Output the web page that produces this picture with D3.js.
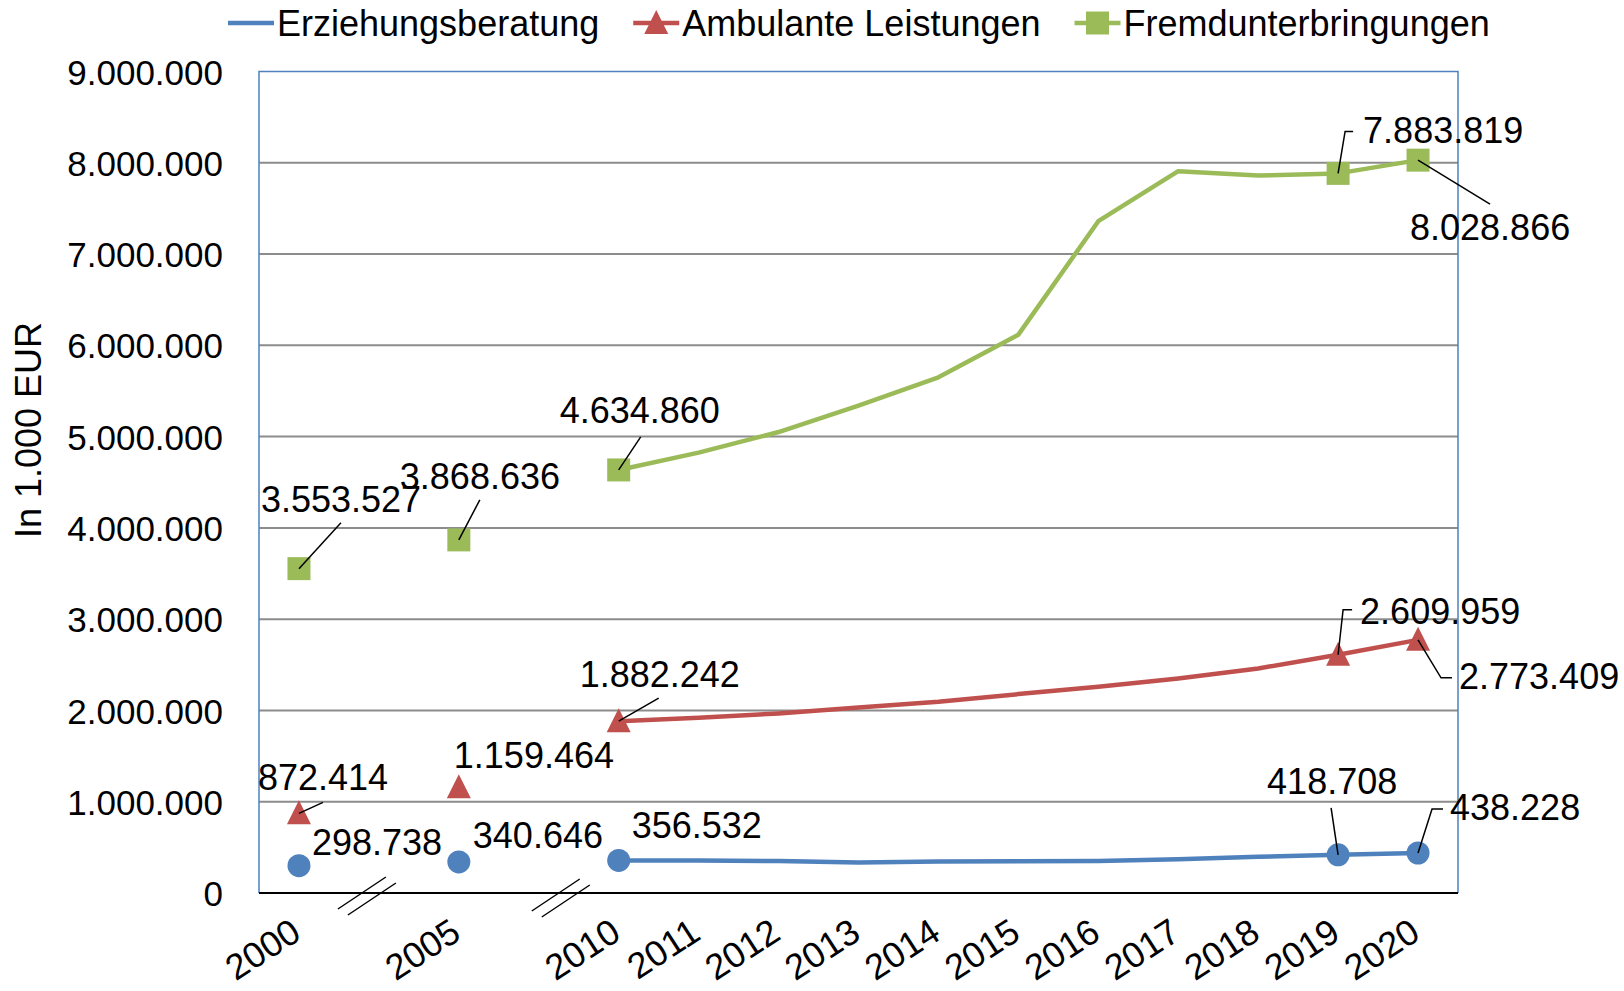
<!DOCTYPE html>
<html>
<head>
<meta charset="utf-8">
<script src="https://cdn.jsdelivr.net/npm/d3@7/dist/d3.min.js"></script>
<style>
	body { margin: 0; background: #fff; }
	svg text { font-family: "Liberation Sans", Arial, sans-serif; fill: #000; }
</style>
</head>
<body>
<div id="chart"></div>
<script>
const years = ['2000', '2005', '2010', '2011', '2012', '2013', '2014', '2015', '2016', '2017', '2018', '2019', '2020']
const breaksAfter = ['2000', '2005']
const markerYears = ['2000', '2005', '2010', '2019', '2020']
const lineFrom = '2010'

const erziehungsberatung = [298738, 340646, 356532, 355000, 350000, 334000, 345000, 348000, 350000, 370000, 396000, 418708, 438228]
const ambulanteLeistungen = [872414, 1159464, 1882242, 1919000, 1967000, 2033000, 2095000, 2179000, 2259000, 2350000, 2460000, 2609959, 2773409]
const fremdunterbringungen = [3553527, 3868636, 4634860, 4825000, 5050000, 5340000, 5650000, 6117000, 7360000, 7908000, 7860000, 7883819, 8028866]

const yTicks = [0, 1000000, 2000000, 3000000, 4000000, 5000000, 6000000, 7000000, 8000000, 9000000]
const yTitle = 'In 1.000 EUR'

const series = [
	{ name: 'Erziehungsberatung', values: erziehungsberatung, colour: '#4F81BD', marker: 'circle', legendMarker: false },
	{ name: 'Ambulante Leistungen', values: ambulanteLeistungen, colour: '#C0504D', marker: 'triangle', legendMarker: true },
	{ name: 'Fremdunterbringungen', values: fremdunterbringungen, colour: '#9BBB59', marker: 'square', legendMarker: true }
]

// label placement relative to the marker: text left/baseline offset, leader polyline
const labelLayout = {
	'Erziehungsberatung': {
		'2000': { dx: 13, dy: -11 },
		'2005': { dx: 14, dy: -14 },
		'2010': { dx: 13, dy: -22 },
		'2019': { dx: -71, dy: -61, leader: [[0, 0], [-7, -47]] },
		'2020': { dx: 32, dy: -33, leader: [[0, 0], [14, -44], [25, -44]] }
	},
	'Ambulante Leistungen': {
		'2000': { dx: -41, dy: -23, leader: [[0, 0], [24, -11]] },
		'2005': { dx: -5, dy: -19 },
		'2010': { dx: -39, dy: -34, leader: [[0, 0], [40, -23]] },
		'2019': { dx: 22, dy: -31, leader: [[0, 0], [5, -45], [14, -45]] },
		'2020': { dx: 41, dy: 49, leader: [[0, 0], [23, 38], [34, 38]] }
	},
	'Fremdunterbringungen': {
		'2000': { dx: -38, dy: -57, leader: [[0, 0], [42, -46]] },
		'2005': { dx: -59, dy: -51, leader: [[0, 0], [21, -40]] },
		'2010': { dx: -59, dy: -47, leader: [[0, 0], [22, -33]] },
		'2019': { dx: 25, dy: -30, leader: [[0, 0], [7, -42], [15, -42]] },
		'2020': { dx: -8, dy: 80, leader: [[0, 0], [72, 44]] }
	}
}

const width = 1624
const height = 991
const margin = { top: 71.5, right: 166, bottom: 98, left: 259 }

const de = d3.formatLocale({ decimal: ',', thousands: '.', grouping: [3], currency: ['', ' €'] })
const fmt = de.format(',d')

const svg = d3.select('#chart')
	.append('svg')
	.attr('width', width)
	.attr('height', height)

const xDomain = years.flatMap(y => breaksAfter.includes(y) ? [y, y + '//'] : [y])
const x = d3.scalePoint()
	.domain(xDomain)
	.range([margin.left, width - margin.right])
	.padding(0.5)

const y = d3.scaleLinear()
	.domain([0, 9000000])
	.range([height - margin.bottom, margin.top])

const plotLeft = margin.left
const plotRight = width - margin.right
const plotBottom = height - margin.bottom

// gridlines
svg.append('g')
	.selectAll('line')
	.data(yTicks.filter(t => t > 0 && t < 9000000))
	.enter()
	.append('line')
		.attr('x1', plotLeft)
		.attr('x2', plotRight)
		.attr('y1', d => y(d))
		.attr('y2', d => y(d))
		.attr('stroke', '#8c8c8c')
		.attr('stroke-width', 2)

// frame: blue left, top, right, black bottom axis
svg.append('path')
	.attr('d', `M${plotLeft},${plotBottom}V${margin.top}H${plotRight}V${plotBottom}`)
	.attr('fill', 'none')
	.attr('stroke', '#4F81BD')
	.attr('stroke-width', 1.5)

svg.append('line')
	.attr('x1', plotLeft)
	.attr('x2', plotRight)
	.attr('y1', plotBottom)
	.attr('y2', plotBottom)
	.attr('stroke', '#000')
	.attr('stroke-width', 2)

// y tick labels
const yAxis = d3.axisLeft(y)
	.tickValues(yTicks)
	.tickFormat(fmt)
	.tickSize(0)
	.tickPadding(36)

const yAxisG = svg.append('g')
	.attr('transform', `translate(${plotLeft},0)`)
	.call(yAxis)
yAxisG.select('.domain').remove()
yAxisG.selectAll('text')
	.attr('font-size', 35)
	.attr('dy', '0.36em')
	.style('font-family', '"Liberation Sans", Arial, sans-serif')

// x tick labels
svg.append('g')
	.selectAll('text')
	.data(years)
	.enter()
	.append('text')
		.attr('transform', d => `translate(${x(d) + 4},${plotBottom + 45}) rotate(-33)`)
		.attr('text-anchor', 'end')
		.attr('font-size', 36)
		.text(d => d)

// axis break marks
const breakShift = [-12, 22]
breaksAfter.forEach((b, i) => {
	const cx = x(b + '//') + breakShift[i]
	const cy = plotBottom + 3 + i * 2
	const g = svg.append('g').attr('transform', `translate(${cx},${cy})`)
	;[-5, 5].forEach(o => {
		g.append('line')
			.attr('x1', o - 24).attr('y1', o * 0.6 + 16)
			.attr('x2', o + 24).attr('y2', o * 0.6 - 16)
			.attr('stroke', '#000')
			.attr('stroke-width', 1.5)
	})
})

// y title
svg.append('text')
	.attr('transform', `translate(${41},${430}) rotate(-90)`)
	.attr('text-anchor', 'middle')
	.attr('font-size', 36)
	.text(yTitle)

function markerPath(type) {
	if (type === 'circle') return d3.symbol(d3.symbolCircle, Math.PI * 11.5 * 11.5)()
	if (type === 'triangle') return 'M0,-13L12,11L-12,11Z'
	return d3.symbol(d3.symbolSquare, 23 * 23)()
}

const line = d3.line()
	.x(d => x(d.year))
	.y(d => y(d.value))

series.forEach(s => {
	const pts = years.map((yr, i) => ({ year: yr, value: s.values[i] }))
	const g = svg.append('g')

	g.append('path')
		.datum(pts.filter(p => +p.year >= +lineFrom))
		.attr('d', line)
		.attr('fill', 'none')
		.attr('stroke', s.colour)
		.attr('stroke-width', 4.5)
		.attr('stroke-linejoin', 'round')

	const marked = pts.filter(p => markerYears.includes(p.year))
	g.selectAll('path.marker')
		.data(marked)
		.enter()
		.append('path')
			.attr('class', 'marker')
			.attr('transform', d => `translate(${x(d.year)},${y(d.value)})`)
			.attr('d', markerPath(s.marker))
			.attr('fill', s.colour)

	const layout = labelLayout[s.name]
	marked.forEach(p => {
		const l = layout[p.year]
		const mx = x(p.year)
		const my = y(p.value)
		if (l.leader) {
			g.append('path')
				.attr('d', d3.line()(l.leader.map(q => [mx + q[0], my + q[1]])))
				.attr('fill', 'none')
				.attr('stroke', '#000')
				.attr('stroke-width', 1.5)
		}
		g.append('text')
			.attr('x', mx + l.dx)
			.attr('y', my + l.dy)
			.attr('font-size', 36)
			.text(fmt(p.value))
	})
})

// legend
const legend = svg.append('g').attr('transform', 'translate(228,23)')
let lx = 0
series.forEach(s => {
	const item = legend.append('g').attr('transform', `translate(${lx},0)`)
	item.append('line')
		.attr('x1', 0).attr('x2', 46)
		.attr('stroke', s.colour)
		.attr('stroke-width', 4.5)
	if (s.legendMarker) {
		item.append('path')
			.attr('transform', 'translate(23,0)')
			.attr('d', markerPath(s.marker))
			.attr('fill', s.colour)
	}
	const t = item.append('text')
		.attr('x', 49)
		.attr('y', 13)
		.attr('font-size', 36)
		.text(s.name)
	lx += 49 + t.node().getComputedTextLength() + 34
})
</script>
</body>
</html>
